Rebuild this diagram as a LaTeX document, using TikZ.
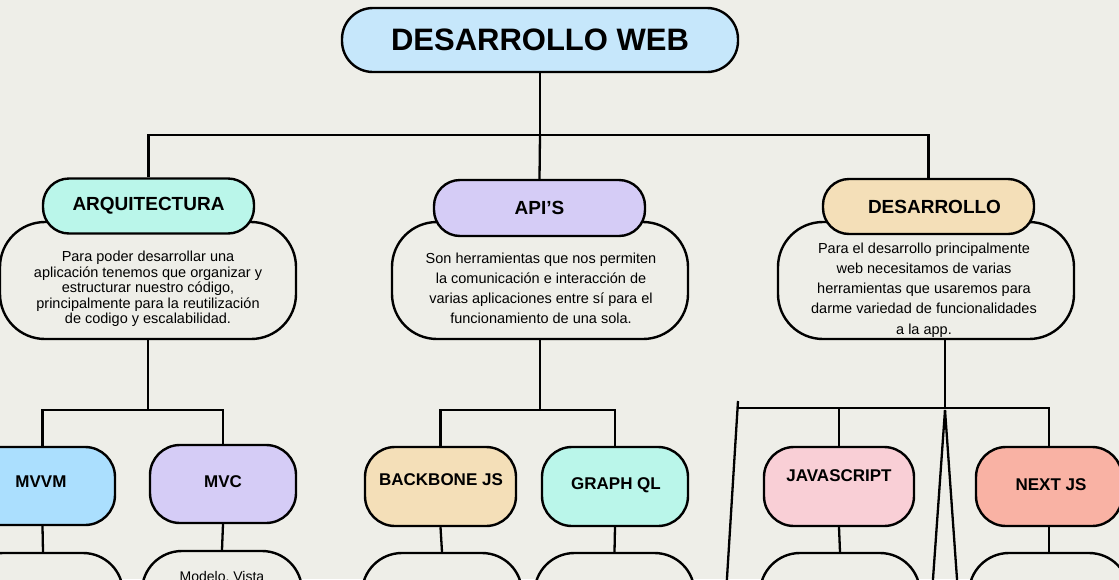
\documentclass[tikz,border=0pt]{standalone}
\usepackage{fontspec}
\setmainfont{Liberation Sans}
\definecolor{bgc}{RGB}{238,238,232}
\definecolor{topblue}{RGB}{198,231,251}
\definecolor{mint}{RGB}{186,246,234}
\definecolor{lav}{RGB}{213,204,246}
\definecolor{peach}{RGB}{244,223,184}
\definecolor{skyb}{RGB}{171,223,254}
\definecolor{pinkc}{RGB}{249,207,214}
\definecolor{salmon}{RGB}{249,178,164}
\begin{document}
\begin{tikzpicture}[x=1pt,y=-1pt,
  conn/.style={draw=black,line width=2.3pt},
  box/.style={draw=black,line width=2.4pt,inner sep=0pt,rectangle},
  descbox/.style={box,fill=bgc,minimum width=296pt,minimum height=117pt,rounded corners=45pt},
  lvltwo/.style={box,minimum width=211pt,minimum height=55pt,rounded corners=26pt,font=\bfseries\fontsize{19}{22}\selectfont},
  lvlthree/.style={box,minimum width=146pt,minimum height=79pt,rounded corners=30pt},
  childbox/.style={box,fill=bgc,minimum width=160pt,minimum height=100pt,rounded corners=40pt},
  lbl/.style={inner sep=0pt,font=\bfseries\fontsize{17}{20}\selectfont},
  body/.style={inner sep=0pt,align=center,font=\fontsize{14.5}{#1}\selectfont},
]
\useasboundingbox (0,0) rectangle (1119,579);
\clip (0,0) rectangle (1119,579);
\fill[bgc] (0,0) rectangle (1119,579);

% top
\node[box,fill=topblue,minimum width=396pt,minimum height=64pt,rounded corners=31pt,
  font=\bfseries\fontsize{31}{36}\selectfont] (top) at (540,40) {DESARROLLO WEB};

% descriptions
\node[descbox] (arqdesc) at (148,280.5) {};
\node[descbox] (apidesc) at (540,280.5) {};
\node[descbox] (desdesc) at (926,280.5) {};

\node[body=15.6pt] (arqtxt) at (148,289) {Para poder desarrollar una\\aplicación tenemos que organizar y\\estructurar nuestro código,\\principalmente para la reutilización\\de codigo y escalabilidad.};
\node[body=20pt] (apitxt) at (541,288) {Son herramientas que nos permiten\\la comunicación e interacción de\\varias aplicaciones entre sí para el\\funcionamiento de una sola.};
\node[body=20.2pt] (destxt) at (924,290) {Para el desarrollo principalmente\\web necesitamos de varias\\herramientas que usaremos para\\darme variedad de funcionalidades\\a la app.};

% level two
\node[lvltwo,fill=mint] (arq) at (148.5,206) {ARQUITECTURA};
\node[lvltwo,fill=lav,minimum height=56pt] (api) at (539.5,208) {API’S};
\node[lvltwo,fill=peach] (des) at (928.5,206.5) {\hspace*{12pt}DESARROLLO};

% level three
\node[lvlthree,fill=skyb,minimum width=145pt,minimum height=78pt] (mvvm) at (42.5,486) {};
\node[lvlthree,fill=lav,minimum height=78pt] (mvc) at (223,484) {};
\node[lvlthree,fill=peach,minimum width=151pt] (bb) at (440.5,486.5) {};
\node[lvlthree,fill=mint] (gq) at (615,486.5) {};
\node[lvlthree,fill=pinkc,minimum width=150pt] (js) at (839,486.5) {};
\node[lvlthree,fill=salmon] (nx) at (1049,486.5) {};

\node[lbl] (mvvmt) at (41,482) {MVVM};
\node[lbl] (mvct) at (223,482) {MVC};
\node[lbl] (bbt) at (441,480) {BACKBONE JS};
\node[lbl] (gqt) at (616,485) {GRAPH QL};
\node[lbl] (jst) at (839,476) {JAVASCRIPT};
\node[lbl] (nxt) at (1051,485) {NEXT JS};

% children (cut by frame)
\node[childbox] (mvvmc) at (43,603) {};
\node[childbox] (mvcc) at (222,601) {};
\node[childbox] (bbc) at (442,603) {};
\node[childbox] (gqc) at (614.5,603) {};
\node[childbox] (jsc) at (840,603) {};
\node[childbox] (nxc) at (1049,603) {};
\node[inner sep=0pt,anchor=base,font=\fontsize{14}{16}\selectfont] (mvcct) at (222,581) {Modelo, Vista};

% connectors
\coordinate (j0) at (540,135);
\draw[conn] (top.south) -- (j0);
\draw[conn] (arq.north) |- (j0) -| (des.north);
\draw[conn] (j0) -- (api.north);

\coordinate (ja) at (148,410);
\draw[conn] (arqdesc.south) -- (ja);
\draw[conn] (mvvm.north) |- (ja) -| (mvc.north);

\coordinate (jb) at (540,410);
\draw[conn] (apidesc.south) -- (jb);
\draw[conn] (bb.north) |- (jb) -| (gq.north);

\coordinate (jd) at (945,408);
\coordinate (jl) at (738,408);
\draw[conn] ([xshift=19pt]desdesc.south) -- (jd);
\draw[conn] (jl) -| (nx.north);
\draw[conn] (js.north) -- (js.north |- jl);

\coordinate (sla) at (738,401);
\coordinate (slb) at (726.5,586);
\draw[conn] (sla) -- (slb);
\coordinate (apex) at (945,410);
\coordinate (apl) at (932.5,586);
\coordinate (apr) at (957.5,586);
\draw[conn] (apex) -- (apl);
\draw[conn] (apex) -- (apr);

\draw[conn] (mvvm.south) -- (mvvmc.north);
\draw[conn] (mvc.south) -- (mvcc.north);
\draw[conn] (bb.south) -- (bbc.north);
\draw[conn] (gq.south) -- (gqc.north);
\draw[conn] (js.south) -- (jsc.north);
\draw[conn] (nx.south) -- (nxc.north);
\end{tikzpicture}
\end{document}
